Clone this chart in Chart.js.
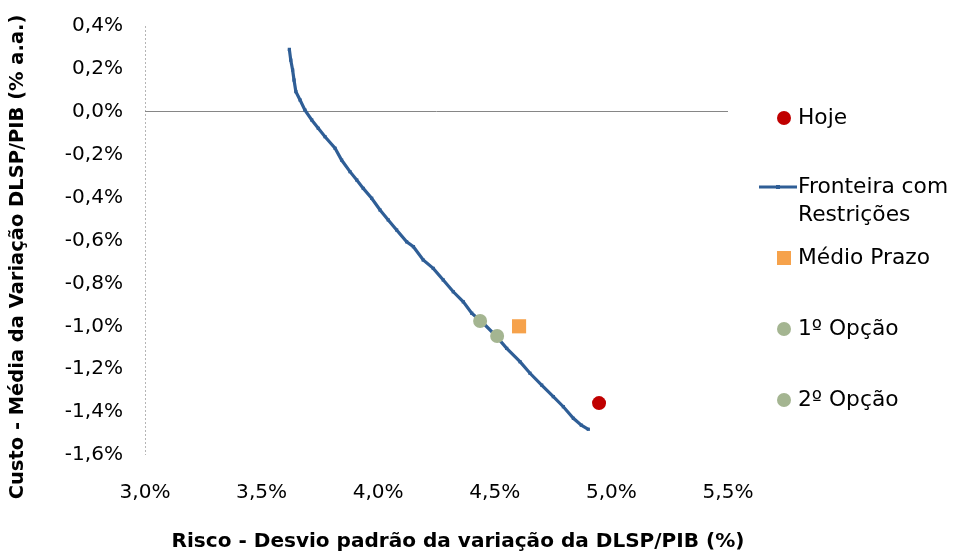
<!DOCTYPE html>
<html><head><meta charset="utf-8">
<script src="https://cdn.jsdelivr.net/npm/chart.js@4/dist/chart.umd.min.js"></script>
<style>html,body{margin:0;padding:0;background:#fff}#wrap{width:953px;height:555px}</style>
</head><body><div id="wrap"><canvas id="c" width="953" height="555"></canvas></div>
<script>
// ---- data ----
const seriesNames = ['Hoje', 'Fronteira com Restrições', 'Médio Prazo', '1º Opção', '2º Opção'];
const xTitle = 'Risco - Desvio padrão da variação da DLSP/PIB (%)';
const yTitle = 'Custo - Média da Variação DLSP/PIB (% a.a.)';
const xTickValues = [3.0, 3.5, 4.0, 4.5, 5.0, 5.5];
const xTickLabels = ['3,0%', '3,5%', '4,0%', '4,5%', '5,0%', '5,5%'];
const yTickValues = [-1.6, -1.4, -1.2, -1.0, -0.8, -0.6, -0.4, -0.2, 0.0, 0.2, 0.4];
const yTickLabels = ['-1,6%', '-1,4%', '-1,2%', '-1,0%', '-0,8%', '-0,6%', '-0,4%', '-0,2%', '0,0%', '0,2%', '0,4%'];

const frontierRisk = [3.619, 3.625, 3.633, 3.639, 3.647, 3.665, 3.686, 3.715, 3.743, 3.772, 3.815, 3.843, 3.879, 3.908, 3.936, 3.972, 4.008, 4.043, 4.079, 4.122, 4.151, 4.193, 4.236, 4.279, 4.322, 4.365, 4.401, 4.451, 4.508, 4.551, 4.608, 4.651, 4.701, 4.751, 4.794, 4.837, 4.871, 4.901];
const frontierCost = [0.291, 0.241, 0.195, 0.148, 0.094, 0.055, 0.008, -0.038, -0.077, -0.116, -0.170, -0.225, -0.279, -0.318, -0.357, -0.403, -0.458, -0.504, -0.551, -0.606, -0.629, -0.691, -0.730, -0.784, -0.839, -0.886, -0.939, -0.986, -1.048, -1.103, -1.165, -1.219, -1.274, -1.328, -1.375, -1.429, -1.461, -1.480];
const hojeRisk = [4.947];
const hojeCost = [-1.358];
const medioRisk = [4.604];
const medioCost = [-1.000];
const opcao1Risk = [4.437];
const opcao1Cost = [-0.975];
const opcao2Risk = [4.510];
const opcao2Cost = [-1.045];

// ---- styles ----
const FAMILY = "'DejaVu Sans', sans-serif";
const COLORS = ['#C00000', '#2F5E96', '#F6A24B', '#A4B591', '#A4B591'];
const mctx = document.createElement('canvas').getContext('2d');
function fit(text, weight, target) { mctx.font = weight + ' 100px ' + FAMILY; return 100 * target / mctx.measureText(text).width; }
const tickSize = fit('0,4%', 'normal', 51);
const legendSize = fit('Médio Prazo', 'normal', 132);
const xTitleSize = fit(xTitle, 'bold', 573);
const yTitleSize = fit(yTitle, 'bold', 485);

const pts = (xs, ys) => xs.map((x, i) => ({x: x, y: ys[i]}));

const decor = {
  id: 'decor',
  afterDraw(chart) {
    const ctx = chart.ctx;
    ctx.save();
    ctx.fillStyle = '#000';
    ctx.textBaseline = 'middle';
    // x tick labels, positioned by the x scale
    const xs = chart.scales.x;
    ctx.font = tickSize + 'px ' + FAMILY;
    ctx.textAlign = 'center';
    xTickValues.forEach((v, i) => ctx.fillText(xTickLabels[i], xs.getPixelForValue(v), 493));
    // axis titles
    ctx.font = 'bold ' + xTitleSize + 'px ' + FAMILY;
    ctx.fillText(xTitle, 458, 542);
    ctx.save();
    ctx.translate(18, 257);
    ctx.rotate(-Math.PI / 2);
    ctx.font = 'bold ' + yTitleSize + 'px ' + FAMILY;
    ctx.fillText(yTitle, 0, 0);
    ctx.restore();
    // legend
    const ds = chart.data.datasets;
    const mx = 784, tx = 798;
    ctx.textAlign = 'left';
    ctx.font = legendSize + 'px ' + FAMILY;
    ctx.fillStyle = ds[0].backgroundColor;
    ctx.beginPath(); ctx.arc(mx, 118, 7, 0, Math.PI * 2); ctx.fill();
    ctx.fillStyle = '#000'; ctx.fillText(seriesNames[0], tx, 118);
    ctx.strokeStyle = ds[1].borderColor; ctx.lineWidth = 3;
    ctx.beginPath(); ctx.moveTo(759, 187); ctx.lineTo(797, 187); ctx.stroke();
    ctx.fillStyle = ds[1].borderColor; ctx.fillRect(776, 185, 4, 4);
    ctx.fillStyle = '#000';
    ctx.fillText('Fronteira com', tx, 187);
    ctx.fillText('Restrições', tx, 215);
    ctx.fillStyle = ds[2].backgroundColor; ctx.fillRect(mx - 7, 251, 14, 14);
    ctx.fillStyle = '#000'; ctx.fillText(seriesNames[2], tx, 258);
    ctx.fillStyle = ds[3].backgroundColor;
    ctx.beginPath(); ctx.arc(mx, 329, 7, 0, Math.PI * 2); ctx.fill();
    ctx.fillStyle = '#000'; ctx.fillText(seriesNames[3], tx, 329);
    ctx.fillStyle = ds[4].backgroundColor;
    ctx.beginPath(); ctx.arc(mx, 400, 7, 0, Math.PI * 2); ctx.fill();
    ctx.fillStyle = '#000'; ctx.fillText(seriesNames[4], tx, 400);
    ctx.restore();
  }
};

new Chart(document.getElementById('c'), {
  type: 'scatter',
  data: {
    datasets: [
      {label: seriesNames[0], data: pts(hojeRisk, hojeCost), backgroundColor: COLORS[0], borderColor: COLORS[0], borderWidth: 0, pointRadius: 7, pointStyle: 'circle', order: 0},
      {label: seriesNames[1], data: pts(frontierRisk, frontierCost), showLine: true, borderColor: COLORS[1], backgroundColor: COLORS[1], borderWidth: 3.2, pointRadius: 2.3, pointBorderWidth: 0, pointBackgroundColor: COLORS[1], pointStyle: 'rect', tension: 0, fill: false, order: 5},
      {label: seriesNames[2], data: pts(medioRisk, medioCost), backgroundColor: COLORS[2], borderColor: COLORS[2], borderWidth: 0, pointRadius: 10, pointStyle: 'rect', order: 0},
      {label: seriesNames[3], data: pts(opcao1Risk, opcao1Cost), backgroundColor: COLORS[3], borderColor: COLORS[3], borderWidth: 0, pointRadius: 7, pointStyle: 'circle', order: 0},
      {label: seriesNames[4], data: pts(opcao2Risk, opcao2Cost), backgroundColor: COLORS[4], borderColor: COLORS[4], borderWidth: 0, pointRadius: 7, pointStyle: 'circle', order: 0}
    ]
  },
  options: {
    responsive: false,
    animation: false,
    layout: {padding: {left: 0, right: 225, top: 26, bottom: 0}},
    plugins: {legend: {display: false}, tooltip: {enabled: false}, title: {display: false}},
    scales: {
      x: {
        type: 'linear', min: 3.0, max: 5.5,
        afterBuildTicks: s => { s.ticks = xTickValues.map(v => ({value: v})); },
        afterFit: s => { s.height = 100; s.paddingLeft = 0; s.paddingRight = 0; },
        ticks: {display: false},
        grid: {display: true, drawTicks: false, lineWidth: 1, color: c => (c.tick && Math.abs(c.tick.value - 3.0) < 1e-9) ? '#b5b5b5' : 'rgba(0,0,0,0)'},
        border: {display: false, dash: [2, 2]}
      },
      y: {
        type: 'linear', min: -1.6, max: 0.4,
        afterBuildTicks: s => { s.ticks = yTickValues.map(v => ({value: v})); },
        afterFit: s => { s.width = 145; s.paddingTop = 0; s.paddingBottom = 0; },
        ticks: {callback: (v, i) => yTickLabels[i], color: '#000', font: {family: FAMILY, size: tickSize}, padding: 22, autoSkip: false},
        grid: {drawTicks: false, lineWidth: 1, color: c => (c.tick && Math.abs(c.tick.value) < 1e-9) ? '#868686' : 'rgba(0,0,0,0)'},
        border: {display: false}
      }
    }
  },
  plugins: [decor]
});
</script>
</body></html>
